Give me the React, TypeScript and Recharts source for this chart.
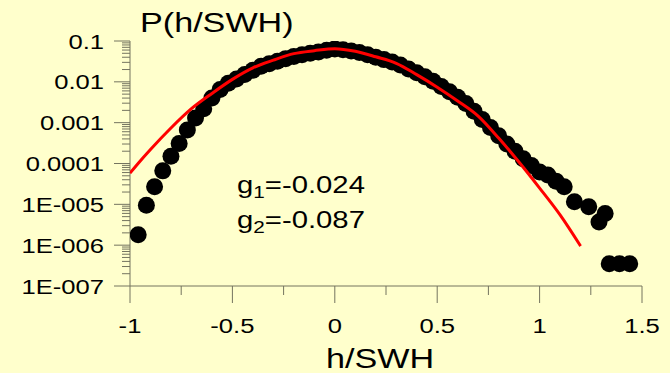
import React from 'react';
import { ComposedChart, XAxis, YAxis, Scatter, Customized } from 'recharts';

// Surface elevation distribution: measured bins (dots) against the model curve (red)
const BG = '#FFFFCC';
const AXIS = '#74745f';
const FONT = '"Liberation Sans", Arial, sans-serif';
const SX = 1.22; // horizontal stretch of the lettering

const xMajorTicks = [-1, -0.5, 0, 0.5, 1, 1.5];
const xTickLabels = ['-1', '-0.5', '0', '0.5', '1', '1.5'];
const xMinorTicks = [-0.75, -0.25, 0.25, 0.75, 1.25];

const yMajorTicks = [1e-7, 1e-6, 1e-5, 1e-4, 1e-3, 1e-2, 1e-1];
const yTickLabels = ['1E-007', '1E-006', '1E-005', '0.0001', '0.001', '0.01', '0.1'];
const yMinorSteps = [2, 3, 4, 5, 6, 7, 8, 9];

const skewness = '-0.024';
const kurtosis = '-0.087';

// measured histogram, h/SWH bin centres and probability per bin
const binCentres = [
  -0.96, -0.92, -0.88, -0.84, -0.8, -0.76, -0.72, -0.68, -0.64, -0.6,
  -0.56, -0.52, -0.48, -0.44, -0.4, -0.36, -0.32, -0.28, -0.24, -0.2,
  -0.16, -0.12, -0.08, -0.04, 0, 0.04, 0.08, 0.12, 0.16, 0.2,
  0.24, 0.28, 0.32, 0.36, 0.4, 0.44, 0.48, 0.52, 0.56, 0.6,
  0.64, 0.68, 0.72, 0.76, 0.8, 0.84, 0.88, 0.92, 0.96, 1.0,
  1.04, 1.08, 1.12, 1.17, 1.24, 1.29, 1.32, 1.34, 1.39, 1.44,
];
const binProbability = [
  1.8e-6, 9.5e-6, 2.7e-5, 6.6e-5, 1.5e-4, 3.1e-4, 6.6e-4, 1.3e-3, 2.2e-3, 4.0e-3,
  6.5e-3, 9.2e-3, 0.0118, 0.0151, 0.0193, 0.024, 0.0277, 0.032, 0.037, 0.042,
  0.046, 0.05, 0.054, 0.059, 0.064, 0.061, 0.057, 0.052, 0.046, 0.04,
  0.035, 0.0306, 0.0257, 0.0206, 0.0166, 0.0133, 0.0104, 7.7e-3, 5.7e-3, 4.2e-3,
  2.95e-3, 1.9e-3, 1.2e-3, 7.6e-4, 4.8e-4, 3.0e-4, 2.0e-4, 1.3e-4, 8.9e-5, 6.2e-5,
  5.2e-5, 3.7e-5, 2.7e-5, 1.15e-5, 8.7e-6, 3.7e-6, 6.0e-6, 3.5e-7, 3.5e-7, 3.5e-7,
];

// model distribution
const modelH = [
  -1, -0.95, -0.9, -0.8, -0.7, -0.6, -0.5, -0.4, -0.3, -0.2, -0.1, 0,
  0.1, 0.2, 0.3, 0.4, 0.5, 0.6, 0.7, 0.8, 0.9, 1.0, 1.1, 1.2,
];
const modelP = [
  5.8e-5, 1.15e-4, 2.2e-4, 7.4e-4, 2.2e-3, 5.2e-3, 0.0115, 0.022, 0.034, 0.049, 0.058, 0.065,
  0.056, 0.041, 0.0285, 0.015, 7.4e-3, 3.4e-3, 1.45e-3, 4.2e-4, 1.07e-4, 2.5e-5, 5.5e-6, 9.5e-7,
];

const measured = binCentres.map((h, i) => ({ h, p: binProbability[i] }));
const model = modelH.map((h, i) => ({ h, p: modelP[i] }));

const xTicks = [...xMajorTicks, ...xMinorTicks].sort((a, b) => a - b);
const yTicks: number[] = [];
yMajorTicks.forEach((d, i) => {
  yTicks.push(d);
  if (i < yMajorTicks.length - 1) yMinorSteps.forEach((m) => yTicks.push(d * m));
});

const XTick = (props: any) => {
  const { x, y, payload } = props;
  const i = xMajorTicks.findIndex((v) => Math.abs(v - payload.value) < 1e-9);
  const major = i >= 0;
  return (
    <g>
      <line x1={x} x2={x} y1={y} y2={y + (major ? 17 : 9)} stroke={AXIS} strokeWidth={1} />
      {major && (
        <text
          transform={`translate(${x} ${y + 47}) scale(${SX} 1)`}
          textAnchor="middle"
          fontSize={21}
          fontFamily={FONT}
          fill="#000"
        >
          {xTickLabels[i]}
        </text>
      )}
    </g>
  );
};

const YTick = (props: any) => {
  const { x, y, payload } = props;
  const lv = Math.log10(payload.value);
  const i = yMajorTicks.findIndex((v) => Math.abs(Math.log10(v) - lv) < 1e-6);
  const major = i >= 0;
  return (
    <g>
      <line x1={x - (major ? 16 : 8)} x2={x} y1={y} y2={y} stroke={AXIS} strokeWidth={1} />
      {major && (
        <text
          transform={`translate(${x - 26} ${y + 7.5}) scale(${SX} 1)`}
          textAnchor="end"
          fontSize={21}
          fontFamily={FONT}
          fill="#000"
        >
          {yTickLabels[i]}
        </text>
      )}
    </g>
  );
};

const Dot = (props: any) => {
  const { cx, cy } = props;
  if (cx == null || cy == null) return <g />;
  return <circle cx={cx} cy={cy} r={8.5} fill="#000" />;
};

const NoMarker = () => <g />;

const Annotations = () => (
  <g fontFamily={FONT} fill="#000">
    <text transform={`translate(140 32) scale(${SX} 1)`} fontSize={28}>P(h/SWH)</text>
    <text transform={`translate(326 368) scale(${SX} 1)`} fontSize={28}>h/SWH</text>
    <text transform={`translate(237 193) scale(${SX} 1)`} fontSize={24}>
      g<tspan fontSize={17} dy={5}>1</tspan>
      <tspan dy={-5}>={skewness}</tspan>
    </text>
    <text transform={`translate(237 228) scale(${SX} 1)`} fontSize={24}>
      g<tspan fontSize={17} dy={5}>2</tspan>
      <tspan dy={-5}>={kurtosis}</tspan>
    </text>
  </g>
);

export default function App() {
  return (
    <div style={{ position: 'absolute', left: 0, top: 0, width: 670, height: 373, background: BG }}>
      <ComposedChart
        width={670}
        height={373}
        margin={{ top: 41, right: 28, bottom: 0, left: 0 }}
        style={{ background: BG }}
      >
        <XAxis
          dataKey="h"
          type="number"
          domain={[-1, 1.5]}
          allowDataOverflow
          ticks={xTicks}
          interval={0}
          height={87}
          tickSize={0}
          tickMargin={0}
          tickLine={false}
          axisLine={{ stroke: AXIS, strokeWidth: 1 }}
          tick={<XTick />}
        />
        <YAxis
          dataKey="p"
          type="number"
          scale="log"
          domain={[1e-7, 0.1]}
          allowDataOverflow
          ticks={yTicks}
          interval={0}
          width={130}
          tickSize={0}
          tickMargin={0}
          tickLine={false}
          axisLine={{ stroke: AXIS, strokeWidth: 1 }}
          tick={<YTick />}
        />
        <Scatter data={measured} dataKey="p" shape={<Dot />} isAnimationActive={false} />
        <Scatter
          data={model}
          dataKey="p"
          shape={<NoMarker />}
          line={{ stroke: '#FF0000', strokeWidth: 3, fill: 'none' }}
          lineJointType="monotone"
          isAnimationActive={false}
        />
        <Customized component={Annotations} />
      </ComposedChart>
    </div>
  );
}
